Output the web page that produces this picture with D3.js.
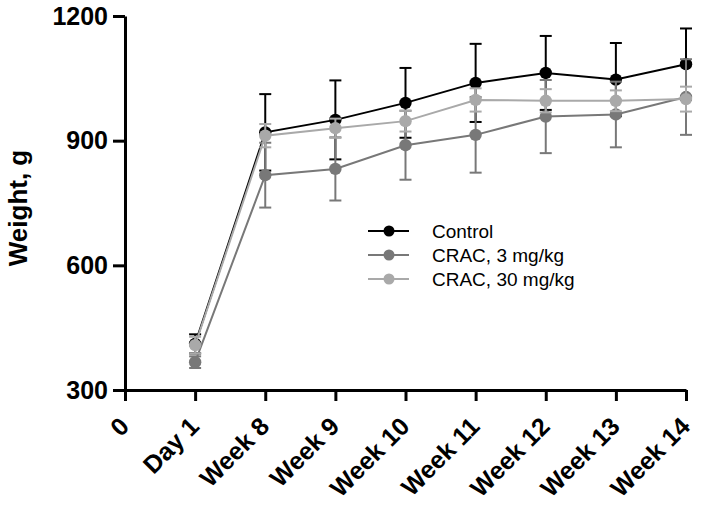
<!DOCTYPE html>
<html>
<head>
<meta charset="utf-8">
<script src="https://cdn.jsdelivr.net/npm/d3@7"></script>
<style>
  html, body { margin: 0; padding: 0; background: #fff; }
  svg { display: block; }
  text { font-family: "Liberation Sans", Arial, sans-serif; }
</style>
</head>
<body>
<div id="chart"></div>
<script>
// ---- Data ----
const xLabels = ["0", "Day 1", "Week 8", "Week 9", "Week 10", "Week 11", "Week 12", "Week 13", "Week 14"];
const timePoints = [1, 2, 3, 4, 5, 6, 7, 8];
const seriesNames = ["Control", "CRAC, 3 mg/kg", "CRAC, 30 mg/kg"];
const controlMean = [411, 920, 950, 991, 1039, 1063, 1047, 1084];
const controlSD   = [23, 92, 95, 84, 94, 89, 88, 86];
const crac3Mean   = [367, 817, 832, 889, 914, 958, 963, 1005];
const crac3SD     = [14, 78, 76, 83, 91, 88, 79, 91];
const crac30Mean  = [408, 912, 930, 947, 998, 996, 996, 1000];
const crac30SD    = [20, 28, 23, 25, 28, 28, 25, 30];
const yTicks = [300, 600, 900, 1200];
const seriesColors = ["#000000", "#787878", "#a9a9a9"];

const series = [
  { name: seriesNames[0], mean: controlMean, sd: controlSD, color: seriesColors[0] },
  { name: seriesNames[1], mean: crac3Mean, sd: crac3SD, color: seriesColors[1] },
  { name: seriesNames[2], mean: crac30Mean, sd: crac30SD, color: seriesColors[2] }
];

const W = 701, H = 509;
const svg = d3.select("#chart").append("svg").attr("width", W).attr("height", H);

const x = d3.scaleLinear().domain([0, 8]).range([125, 686]);
const y = d3.scaleLinear().domain([300, 1200]).range([390, 16]);

// Series
const capHalf = 6;
series.forEach(s => {
  const g = svg.append("g");
  const pts = timePoints.map((t, i) => ({ t, m: s.mean[i], sd: s.sd[i] }));
  pts.forEach(p => {
    g.append("line")
      .attr("x1", x(p.t)).attr("x2", x(p.t))
      .attr("y1", y(p.m - p.sd)).attr("y2", y(p.m + p.sd))
      .attr("stroke", s.color).attr("stroke-width", 2);
    [p.m - p.sd, p.m + p.sd].forEach(v => {
      g.append("line")
        .attr("x1", x(p.t) - capHalf).attr("x2", x(p.t) + capHalf)
        .attr("y1", y(v)).attr("y2", y(v))
        .attr("stroke", s.color).attr("stroke-width", 2);
    });
  });
  g.append("path")
    .datum(pts)
    .attr("fill", "none").attr("stroke", s.color).attr("stroke-width", 2)
    .attr("d", d3.line().x(d => x(d.t)).y(d => y(d.m)));
  g.selectAll("circle").data(pts).enter().append("circle")
    .attr("cx", d => x(d.t)).attr("cy", d => y(d.m)).attr("r", 6.2)
    .attr("fill", s.color);
});

// Axes
const yAxis = d3.axisLeft(y).tickValues(yTicks).tickFormat(d3.format("d"))
  .tickSize(12).tickPadding(5).tickSizeOuter(0);
const gy = svg.append("g").attr("transform", `translate(${x(0)},0)`).call(yAxis);
gy.select(".domain").attr("stroke", "#000").attr("stroke-width", 3);
gy.selectAll(".tick line").attr("stroke", "#000").attr("stroke-width", 3);
gy.selectAll(".tick text")
  .attr("font-size", 25).attr("font-weight", "bold").attr("fill", "#000")
  .attr("font-family", "Liberation Sans, Arial, sans-serif");

const xAxis = d3.axisBottom(x).tickValues(d3.range(0, 9)).tickFormat(i => xLabels[i])
  .tickSize(11).tickSizeOuter(0);
const gx = svg.append("g").attr("transform", `translate(0,${y(300)})`).call(xAxis);
gx.select(".domain").attr("stroke", "#000").attr("stroke-width", 3);
gx.selectAll(".tick line").attr("stroke", "#000").attr("stroke-width", 3);
gx.selectAll(".tick text")
  .attr("font-size", 25).attr("font-weight", "bold").attr("fill", "#000")
  .attr("font-family", "Liberation Sans, Arial, sans-serif")
  .attr("text-anchor", "end")
  .attr("x", 0).attr("y", 0).attr("dy", 0)
  .attr("transform", "translate(5,38) rotate(-45)");

// Y axis title
svg.append("text")
  .attr("transform", "translate(27,208) rotate(-90)")
  .attr("text-anchor", "middle")
  .attr("font-size", 26).attr("font-weight", "bold").attr("fill", "#000")
  .text("Weight, g");

// Legend
const legend = svg.append("g");
series.forEach((s, i) => {
  const ly = 231 + i * 24;
  legend.append("line").attr("x1", 368).attr("x2", 409).attr("y1", ly).attr("y2", ly)
    .attr("stroke", s.color).attr("stroke-width", 2);
  legend.append("circle").attr("cx", 389).attr("cy", ly).attr("r", 5.5).attr("fill", s.color);
  legend.append("text").attr("x", 432).attr("y", ly).attr("dy", "0.35em")
    .attr("font-size", 19).attr("fill", "#000").text(s.name);
});
</script>
</body>
</html>
